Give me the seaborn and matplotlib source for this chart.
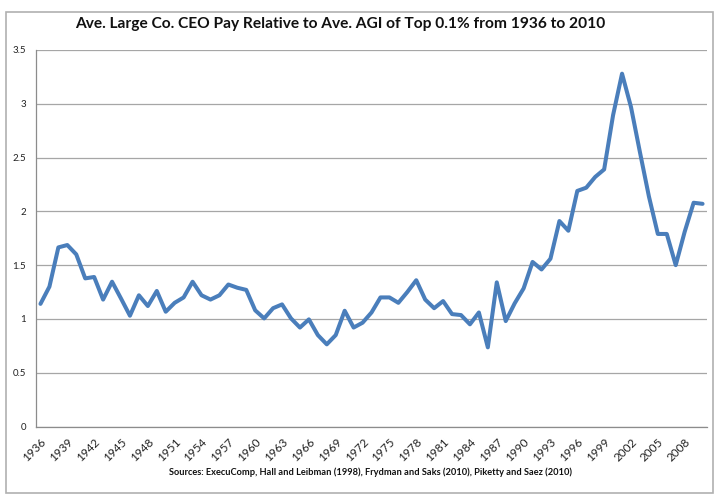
import matplotlib
matplotlib.use("Agg")
import matplotlib.pyplot as plt
import matplotlib.patches as patches
import numpy as np
import pandas as pd
import seaborn as sns

years = list(range(1936, 2011))
ratio = [
    1.14, 1.30, 1.665, 1.687, 1.60, 1.377, 1.39, 1.18, 1.346, 1.19,
    1.03, 1.22, 1.12, 1.26, 1.067, 1.15, 1.20, 1.346, 1.22, 1.18,
    1.22, 1.32, 1.29, 1.27, 1.08, 1.005, 1.10, 1.135, 1.005, 0.92,
    0.996, 0.85, 0.764, 0.85, 1.076, 0.92, 0.965, 1.06, 1.20, 1.20,
    1.15, 1.25, 1.36, 1.18, 1.10, 1.166, 1.045, 1.036, 0.95, 1.06,
    0.736, 1.34, 0.98, 1.145, 1.284, 1.53, 1.46, 1.56, 1.91, 1.82,
    2.19, 2.22, 2.32, 2.39, 2.895, 3.28, 2.97, 2.55, 2.14, 1.79,
    1.79, 1.50, 1.81, 2.08, 2.07,
]
yticks = [0, 0.5, 1, 1.5, 2, 2.5, 3, 3.5]
ytick_labels = ["0", "0.5", "1", "1.5", "2", "2.5", "3", "3.5"]

title = "Ave. Large Co. CEO Pay Relative to Ave. AGI of Top 0.1% from 1936 to 2010"
source = "Sources: ExecuComp, Hall and Leibman (1998), Frydman and Saks (2010), Piketty and Saez (2010)"

df = pd.DataFrame({"idx": np.arange(len(years)), "ratio": ratio})

sns.set_style("white")
plt.rcParams["font.family"] = ["Lato", "DejaVu Sans"]

fig = plt.figure(figsize=(7.2, 4.94), dpi=100)
ax = fig.add_axes([0.05, 0.1366, 0.932, 0.7622])

sns.lineplot(data=df, x="idx", y="ratio", ax=ax, color="#4a7ebb", linewidth=2.9)

ax.set_xlim(-0.5, len(years) - 0.5)
ax.set_ylim(0, 3.5)
ax.set_yticks(yticks)
ax.set_yticklabels(ytick_labels, fontsize=7, color="#222222")
ax.yaxis.grid(True, color="#a6a6a6", linewidth=0.9)
ax.set_axisbelow(True)

# labels on every third year, tick marks between categories
lab_idx = list(range(0, len(years), 3))
ax.set_xticks(lab_idx)
ax.set_xticklabels([str(years[i]) for i in lab_idx], rotation=45, ha="right",
                   rotation_mode="anchor", fontsize=8.5, color="#222222")
ax.set_xticks(np.arange(-0.5, len(years), 1), minor=True)
ax.tick_params(axis="x", which="major", length=0, pad=7)
ax.tick_params(axis="x", which="minor", length=4, color="#8c8c8c", width=0.8, direction="out")
ax.tick_params(axis="y", length=4, color="#8c8c8c", width=0.8, direction="out", pad=3)

for s in ["top", "right"]:
    ax.spines[s].set_visible(False)
for s in ["left", "bottom"]:
    ax.spines[s].set_color("#8c8c8c")
    ax.spines[s].set_linewidth(0.9)

ax.set_xlabel("")
ax.set_ylabel("")

fig.text(0.472, 0.951, title, ha="center", va="center", fontsize=11.2,
         fontweight="bold", color="#111111")
fig.text(0.515, 0.044, source, ha="center", va="center", fontsize=6.7,
         fontweight="bold", color="#111111")

# outer chart frame
frame = patches.Rectangle((0.008, 0.003), 0.982, 0.972, transform=fig.transFigure,
                          fill=False, edgecolor="#b0b0b0", linewidth=1.2)
fig.add_artist(frame)

fig.savefig("out.png", dpi=100)
